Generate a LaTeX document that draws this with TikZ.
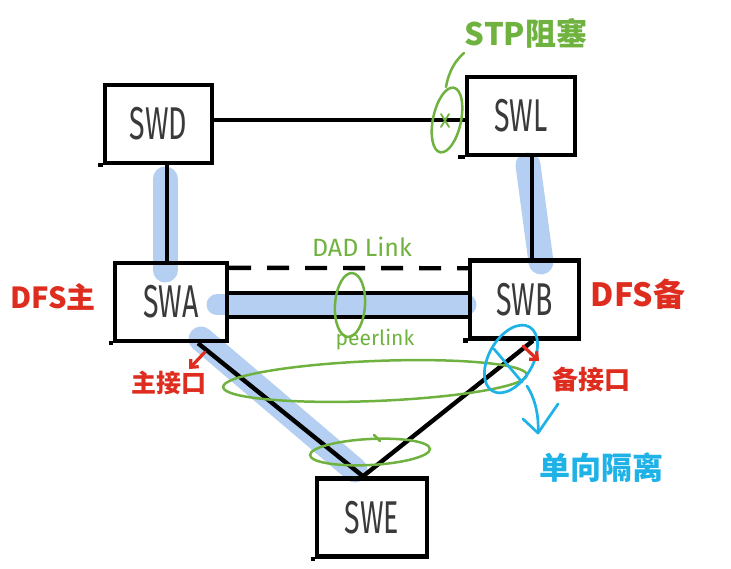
\documentclass[tikz,border=0pt]{standalone}
\usepackage{fontspec}
\usepackage{graphicx}
\setmainfont{Fira Sans}
\newfontfamily\cjk{Noto Sans CJK SC}
\usetikzlibrary{arrows.meta,backgrounds}
\definecolor{hlblue}{RGB}{181,207,242}
\definecolor{pgreen}{RGB}{112,178,64}
\definecolor{pred}{RGB}{222,45,30}
\definecolor{pcyan}{RGB}{30,178,230}
\definecolor{boxtext}{RGB}{58,58,58}
\newcommand\myfs[1]{\fontsize{#1}{#1}\selectfont}
\newcommand\boxlabel[1]{\scalebox{0.62}[1]{\myfs{46}#1}}
\begin{document}
\begin{tikzpicture}[x=1pt,y=-1pt,
  swbox/.style={draw=black,line width=4.4pt,minimum height=78pt,inner sep=0pt,text=boxtext},
  link/.style={black,line width=4.4pt},
  band/.style={hlblue,line width=25pt,line cap=round},
  pen/.style={pgreen,line width=2.5pt,line cap=round},
  cpen/.style={pcyan,line width=2.7pt,line cap=round,line join=round},
  rpen/.style={pred,line width=3.2pt,line cap=round},
  lbl/.style={inner sep=0pt}]
\useasboundingbox (0,0) rectangle (731,569);
% boxes
\node[swbox,minimum width=107pt] (SWD) at (158.5,124) {\boxlabel{SWD}};
\node[swbox,minimum width=108pt] (SWL) at (521,116) {\boxlabel{SWL}};
\node[swbox,minimum width=112pt] (SWA) at (171,302) {\boxlabel{SWA}};
\node[swbox,minimum width=109pt] (SWB) at (524.5,299.5) {\boxlabel{SWB}};
\node[swbox,minimum width=110pt] (SWE) at (372,517.5) {\boxlabel{SWE}};
% box bottom overshoots
\draw[link] (SWD.south west) -- ++(-5,0);
\draw[link] (SWL.south west) -- ++(-7,0);
\draw[link] (SWA.south west) -- ++(-4,0);
\draw[link] (SWB.south west) -- ++(-5,0);
\draw[link] (SWE.south west) -- ++(-4,0);
% blue highlight bands
\begin{scope}[on background layer]
\draw[band] (165,179) -- (165,270);
\draw[band] (528,165) -- (541,262);
\draw[band,line width=21pt] (217,305) -- (466,305);
\draw[band] (201,339) -- (355,470);
\end{scope}
% connectors
\draw[link] ([yshift=4pt]SWD.east) -- ([yshift=-4pt]SWL.west);
\draw[link] ([xshift=8.5pt]SWD.south) -- ([xshift=-4pt]SWA.north);
\draw[link] ([xshift=11pt]SWL.south) -- ([xshift=7.5pt]SWB.north);
\draw[link,dash pattern=on 22pt off 16pt] ([yshift=-7pt]SWA.north east) -- ([yshift=-10pt]SWB.north west);
\draw[link] ([yshift=9pt]SWA.east) -- ([yshift=6.5pt]SWB.west);
\draw[link] ([yshift=-15pt]SWA.east) -- ([yshift=-17.5pt]SWB.west);
\draw[link] ([xshift=27pt]SWA.south) -- ([xshift=-9pt]SWE.north);
\draw[link] ([xshift=8.5pt]SWB.south) -- ([xshift=-9pt]SWE.north);
% green annotations
\draw[pen,rotate around={-12:(447,120)}] (447,120) ellipse [x radius=14pt,y radius=33pt];
\draw[pen,line width=1.8pt] (441,114) -- (449,127) (449,114) -- (441,127);
\draw[pen] (446,87) .. controls (449,70) and (456,60) .. (464,53);
\node[lbl,text=pgreen] (stp) at (526,33) {\cjk\bfseries\myfs{31}STP阻塞};
\node[lbl,text=pgreen] (dad) at (362,247) {\myfs{25}DAD Link};
\node[lbl,text=pgreen] (peer) at (375,340) {\myfs{21}peerlink};
\draw[pen,rotate around={-4:(350,305)}] (350,305) ellipse [x radius=15pt,y radius=32pt];
\draw[pen,rotate around={2.3:(375,381)}] (375,381) ellipse [x radius=152pt,y radius=20pt];
\draw[pen,rotate around={3:(370,452)}] (370,452) ellipse [x radius=60pt,y radius=13pt];
\draw[pen] (374,435) -- (380,441);
% cyan annotation
\draw[cpen,rotate around={-30:(511,359)}] (511,359) ellipse [x radius=22pt,y radius=37pt];
\draw[cpen] (494,349) -- (522,382);
\draw[cpen] (527,386) .. controls (536,400) and (539,418) .. (538,433);
\draw[cpen] (523,419) -- (538,433) -- (558,404);
\node[lbl,text=pcyan] (iso) at (601,468) {\cjk\bfseries\myfs{31}单向隔离};
% red annotations
\node[lbl,text=pred] (dfsA) at (53,297) {\cjk\bfseries\myfs{29}DFS主};
\node[lbl,text=pred] (dfsB) at (638,294) {\cjk\bfseries\myfs{32}DFS备};
\node[lbl,text=pred] (mainif) at (169,383) {\cjk\bfseries\myfs{25}主接口};
\node[lbl,text=pred] (bkif) at (591,380) {\cjk\bfseries\myfs{26}备接口};
\draw[rpen,-{Straight Barb[length=6pt,width=11pt]}] (205,352) -- (189,369);
\draw[rpen,-{Straight Barb[length=6pt,width=11pt]}] (523,346) -- (539,361);
\end{tikzpicture}
\end{document}
